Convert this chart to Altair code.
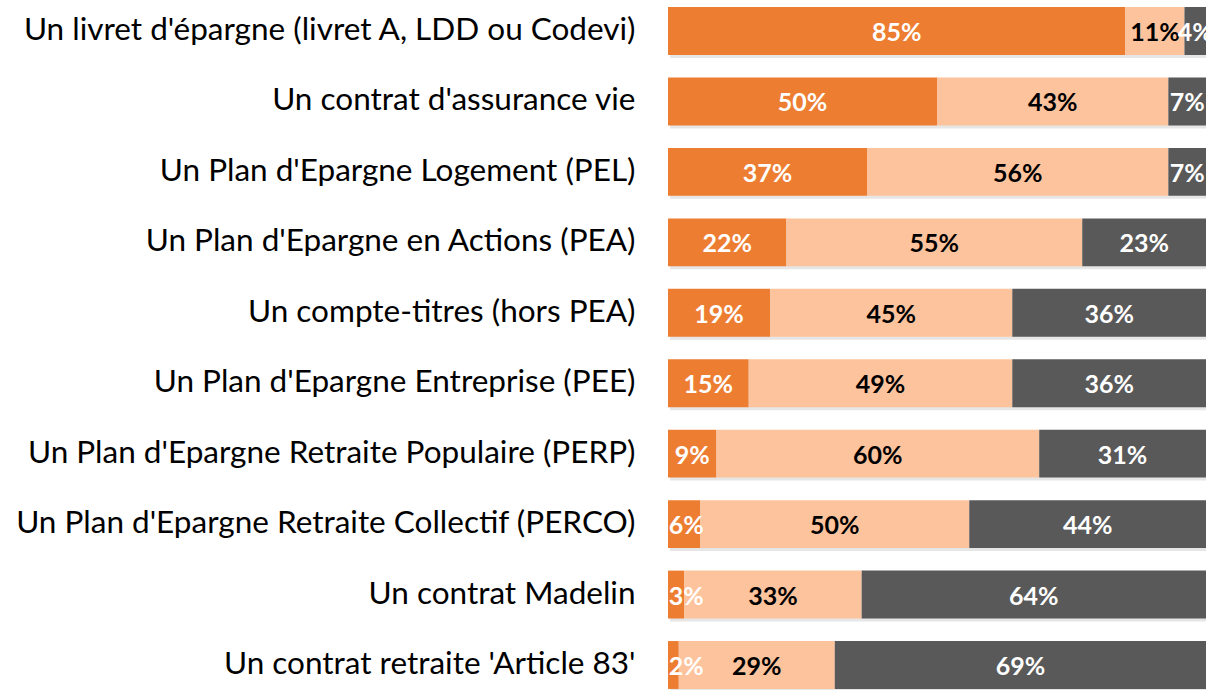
import altair as alt
import pandas as pd

categories = [
    "Un livret d'épargne (livret A, LDD ou Codevi)",
    "Un contrat d'assurance vie",
    "Un Plan d'Epargne Logement (PEL)",
    "Un Plan d'Epargne en Actions (PEA)",
    "Un compte-titres (hors PEA)",
    "Un Plan d'Epargne Entreprise (PEE)",
    "Un Plan d'Epargne Retraite Populaire (PERP)",
    "Un Plan d'Epargne Retraite Collectif (PERCO)",
    "Un contrat Madelin",
    "Un contrat retraite 'Article 83'",
]
series_names = ["s1", "s2", "s3"]
s1 = [85, 50, 37, 22, 19, 15, 9, 6, 3, 2]
s2 = [11, 43, 56, 55, 45, 49, 60, 50, 33, 29]
s3 = [4, 7, 7, 23, 36, 36, 31, 44, 64, 69]
colors = ["#ED7D31", "#FDC39C", "#595959"]
text_colors = ["#FFFFFF", "#000000", "#FFFFFF"]

rows = []
for i, c in enumerate(categories):
    start = 0
    for j, vals in enumerate([s1, s2, s3]):
        v = vals[i]
        rows.append({"cat": c, "series": series_names[j], "order": j,
                     "start": start, "end": start + v, "value": v,
                     "label": f"{v}%", "tcolor": text_colors[j]})
        start += v
df = pd.DataFrame(rows)

yenc = alt.Y("cat:N", sort=categories,
             scale=alt.Scale(paddingInner=0.32, paddingOuter=0.1),
             axis=alt.Axis(title=None, domain=False, ticks=False, labelPadding=33,
                           labelFontSize=31.5, labelFont="Lato", labelColor="#000000",
                           labelLimit=700, labelBaseline="middle"))
xscale = alt.Scale(domain=[0, 100], nice=False, zero=True)

base = alt.Chart(df)

shadow = base.transform_filter("datum.order == 0").mark_bar(
    color="#9a9a9a", opacity=0.25, yOffset=3
).encode(
    y=yenc,
    x=alt.value(2),
    x2=alt.value(538),
)

bars = base.mark_bar().encode(
    y=yenc,
    x=alt.X("start:Q", scale=xscale, axis=None),
    x2="end:Q",
    color=alt.Color("series:N", scale=alt.Scale(domain=series_names, range=colors), legend=None),
)

labels = base.transform_calculate(
    mid="max((datum.start + datum.end) / 2, 3.4)"
).mark_text(font="Lato", fontWeight="bold", fontSize=25, align="center", baseline="middle", dy=2).encode(
    y=yenc,
    x=alt.X("mid:Q", scale=xscale, axis=None),
    text="label:N",
    color=alt.Color("tcolor:N", scale=None),
)

chart = alt.layer(shadow, bars, labels).properties(
    width=538, height=696,
    padding={"left": 668, "top": 0, "right": 0, "bottom": 0},
    autosize=alt.AutoSizeParams(type="none"),
).configure_view(stroke=None)

chart.save("out.html", embed_options={"renderer": "svg", "actions": False})
